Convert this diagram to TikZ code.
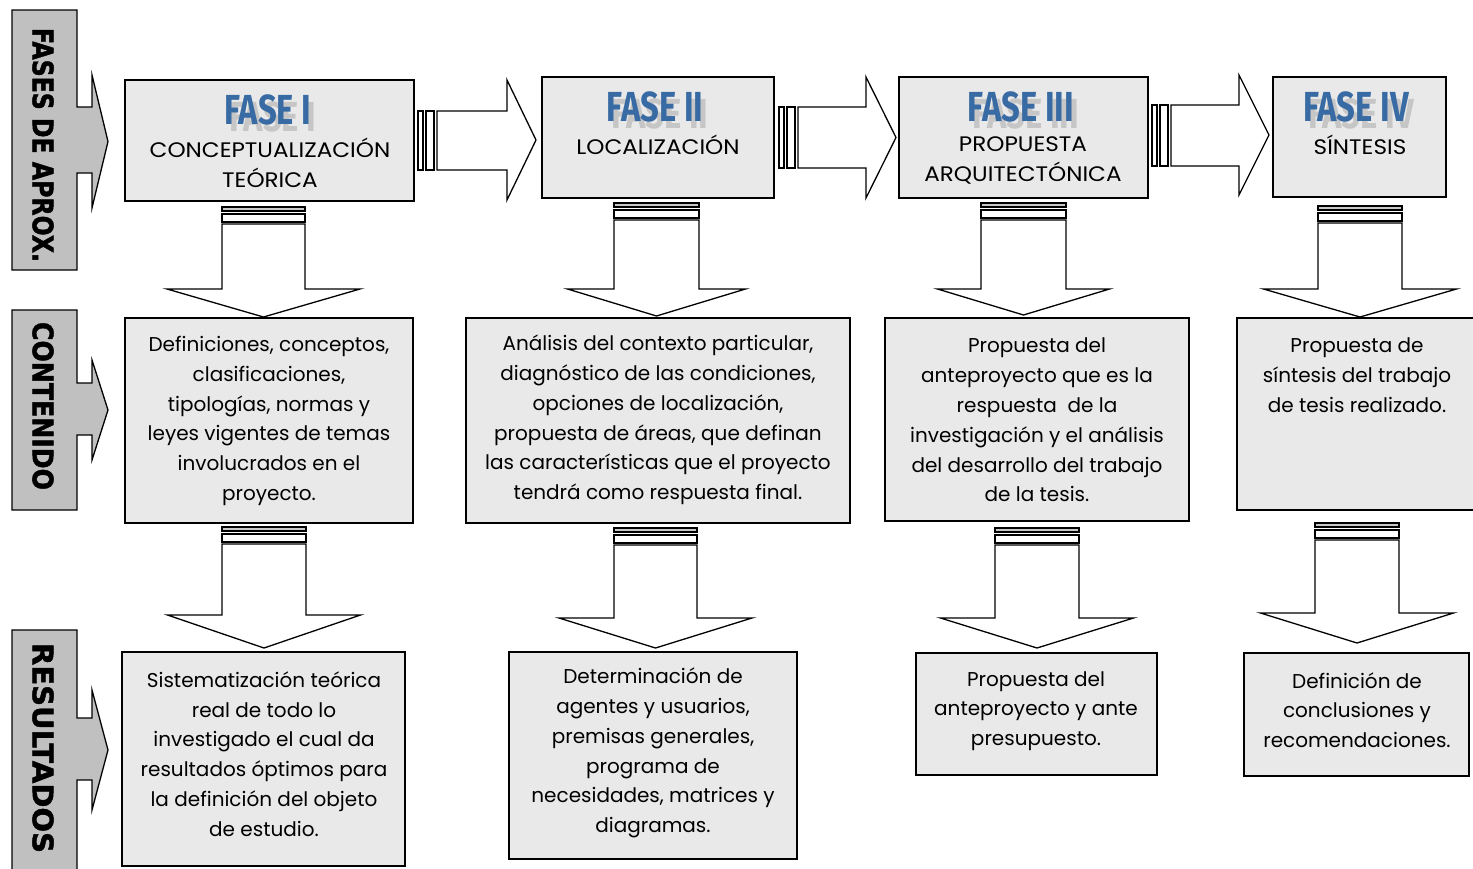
\documentclass[tikz,border=0pt]{standalone}
\usepackage{fontspec}
\setmainfont{Poppins}
\newfontfamily\titlefont{Fira Sans}
\newfontfamily\sidefont{DejaVu Sans}[BoldFeatures={FakeBold=1.6}]
\usetikzlibrary{fit}
\definecolor{boxgray}{RGB}{233,233,233}
\definecolor{sidegray}{RGB}{192,192,192}
\definecolor{faseblue}{RGB}{56,106,163}
\definecolor{barfill}{RGB}{200,200,200}
\tikzset{
 boxst/.style={draw, line width=1.5pt, fill=boxgray, inner sep=0pt},
 txt/.style={align=center, font=\fontsize{20}{29.8}\selectfont, inner sep=0pt},
 hdr/.style={align=center, font=\fontsize{21}{30}\selectfont, inner sep=0pt},
 arr/.style={draw, line width=1.3pt, fill=white, line join=miter},
 sidest/.style={draw, line width=1.3pt, fill=sidegray},
 sidetxt/.style={inner sep=0pt, rotate=-90, font=\sidefont\bfseries},
 fase/.style={inner sep=0pt, text=faseblue, font=\titlefont\bfseries\fontsize{42}{42}\selectfont},
 fasesh/.style={inner sep=0pt, text=gray!45, font=\titlefont\bfseries\fontsize{42}{42}\selectfont, xshift=5pt, yshift=-7pt},
}
\newcommand\hs[1]{\scalebox{1.1}[1]{#1}}
\newcommand\downarr[6]{% cx, bar1 top, head y, head halfwidth, tip y, shaft halfwidth
 \draw[arr, fill=barfill] (#1-#6,#2) rectangle (#1+#6,#2+4);
 \draw[arr] (#1-#6,#2+7) rectangle (#1+#6,#2+15);
 \draw[arr] (#1-#6,#2+17) -- (#1+#6,#2+17) -- (#1+#6,#3) -- (#1+#4,#3) -- (#1,#5) -- (#1-#4,#3) -- (#1-#6,#3) -- cycle;
}
\newcommand\rightarr[7]{% x0, shaft y1, shaft y2, head x, head y1, head y2, tip x
 \draw[arr] (#1,#2) rectangle (#1+5,#3);
 \draw[arr] (#1+8,#2) rectangle (#1+16,#3);
 \draw[arr] (#1+19,#2) -- (#4,#2) -- (#4,#5) -- (#7,{(#5+#6)/2}) -- (#4,#6) -- (#4,#3) -- (#1+19,#3) -- cycle;
}
\newcommand\sidepanel[6]{% ytop, ybot, shaft y1, shaft y2, head y1, head y2
 \draw[sidest] (12,#1) -- (77,#1) -- (77,#3) -- (92,#3) -- (92,#5) -- (108,{(#5+#6)/2}) -- (92,#6) -- (92,#4) -- (77,#4) -- (77,#2) -- (12,#2) -- cycle;
}
\newcommand\fasetitle[3]{% name, position, text
 \node[fasesh] (#1s) at (#2) {\scalebox{0.78}[1]{#3}};
 \node[fase] (#1) at (#2) {\scalebox{0.78}[1]{#3}};
}
\begin{document}
\begin{tikzpicture}[x=1pt,y=-1pt]
\useasboundingbox (0,0) rectangle (1473,868);
\clip (0,0) rectangle (1473,868);
\fill[white] (0,0) rectangle (1473,868);

% side panels
\sidepanel{10}{270}{107}{173}{75}{208}
\sidepanel{310}{510}{383}{435}{360}{460}
\sidepanel{630}{880}{718}{780}{690}{810}
\node[sidetxt] (s1) at (43,145) {\resizebox{234pt}{21pt}{FASES DE APROX.}};
\node[sidetxt] (s2) at (43,406) {\resizebox{168pt}{21pt}{CONTENIDO}};
\node[sidetxt] (s3) at (43,748) {\resizebox{210pt}{21pt}{RESULTADOS}};

% row 1: phases
\node[boxst, fit={(125,80) (414,201)}] (p1) {};
\node[boxst, fit={(542,77) (774,198)}] (p2) {};
\node[boxst, fit={(899,77) (1148,198)}] (p3) {};
\node[boxst, fit={(1273,77) (1446,197)}] (p4) {};

\fasetitle{f1}{268,110}{FASE I}
\fasetitle{f2}{655,107}{FASE II}
\fasetitle{f3}{1021,107}{FASE III}
\fasetitle{f4}{1356,107}{FASE IV}

\node[hdr] (h1) at (270,163) {\hs{CONCEPTUALIZACIÓN}\\\hs{TEÓRICA}};
\node[hdr] (h2) at (658,145) {\hs{LOCALIZACIÓN}};
\node[hdr] (h3) at (1023,160) {\hs{PROPUESTA}\\\hs{ARQUITECTÓNICA}};
\node[hdr] (h4) at (1360,145) {\hs{SÍNTESIS}};

\rightarr{418}{111}{170}{507}{80}{200}{536}
\rightarr{779}{107}{168}{866}{77}{198}{896}
\rightarr{1152}{105}{166}{1239}{75}{195}{1269}

% down arrows row 1 -> 2
\downarr{263.5}{207}{289}{96.5}{317}{41.5}
\downarr{656.5}{203}{289}{89}{316}{42.5}
\downarr{1023.5}{203}{289}{86}{315}{42.5}
\downarr{1360}{206}{289}{96.5}{317}{42}

% row 2: content
\node[boxst, fit={(125,318) (413,523)}] (c1) {};
\node[boxst, fit={(466,318) (850,523)}] (c2) {};
\node[boxst, fit={(885,318) (1189,521)}] (c3) {};
\node[boxst, fit={(1237,318) (1476,510)}] (c4) {};

\node[txt] (ct1) at (269,421) {Definiciones, conceptos,\\clasificaciones,\\tipologías, normas y\\leyes vigentes de temas\\involucrados en el\\proyecto.};
\node[txt] (ct2) at (658,420) {Análisis del contexto particular,\\diagnóstico de las condiciones,\\opciones de localización,\\propuesta de áreas, que definan\\las características que el proyecto\\tendrá como respuesta final.};
\node[txt] (ct3) at (1037,420) {Propuesta del\\anteproyecto que es la\\respuesta\ \ de la\\investigación y el análisis\\del desarrollo del trabajo\\de la tesis.};
\node[txt] (ct4) at (1357,375) {Propuesta de\\síntesis del trabajo\\de tesis realizado.};

% down arrows row 2 -> 3
\downarr{264}{527}{615}{96.5}{648}{42}
\downarr{655.5}{528}{618}{96.5}{648}{41.5}
\downarr{1037}{528}{618}{96.5}{648}{42}
\downarr{1357}{523}{613}{96.5}{643}{42}

% row 3: results
\node[boxst, fit={(122,652) (405,866)}] (r1) {};
\node[boxst, fit={(509,652) (797,859)}] (r2) {};
\node[boxst, fit={(916,653) (1157,775)}] (r3) {};
\node[boxst, fit={(1244,653) (1469,776)}] (r4) {};

\node[txt] (rt1) at (264,754) {Sistematización teórica\\real de todo lo\\investigado el cual da\\resultados óptimos para\\la definición del objeto\\de estudio.};
\node[txt] (rt2) at (653,753) {Determinación de\\agentes y usuarios,\\premisas generales,\\programa de\\necesidades, matrices y\\diagramas.};
\node[txt] (rt3) at (1036,711) {Propuesta del\\anteproyecto y ante\\presupuesto.};
\node[txt] (rt4) at (1357,710) {Definición de\\conclusiones y\\recomendaciones.};
\end{tikzpicture}
\end{document}
